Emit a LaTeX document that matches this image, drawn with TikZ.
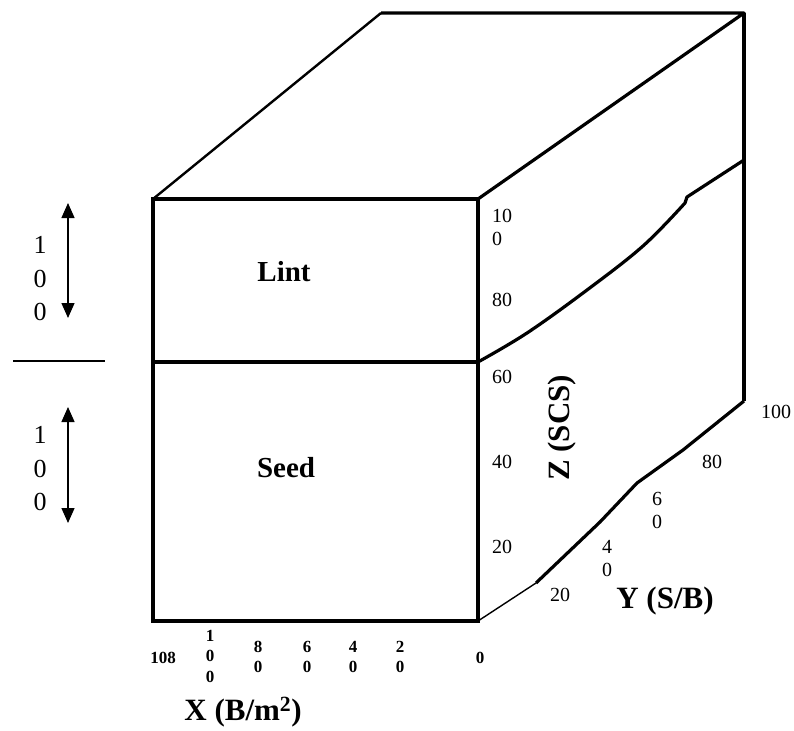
\documentclass[tikz,border=0pt]{standalone}
\usepackage{fontspec}
\setmainfont{Liberation Serif}
\usetikzlibrary{arrows.meta}
\tikzset{
  thick edge/.style={line width=3.2pt, line join=miter},
  mid edge/.style={line width=2.4pt},
  thin edge/.style={line width=1.4pt},
  lbl/.style={inner sep=0pt, font=\fontsize{20}{23}\selectfont, align=left},
  blbl/.style={inner sep=0pt, font=\bfseries\fontsize{17}{20.5}\selectfont, align=center},
  axlbl/.style={inner sep=0pt, font=\bfseries\fontsize{31}{34}\selectfont},
  boxlbl/.style={inner sep=0pt, font=\bfseries\fontsize{29}{32}\selectfont},
  leftnum/.style={inner sep=0pt, font=\fontsize{26}{33.5}\selectfont, align=center},
  dimarrow/.style={line width=1.3pt, {Triangle[length=15pt,width=13pt]}-{Triangle[length=15pt,width=13pt]}}
}
\begin{document}
\begin{tikzpicture}[x=1pt,y=-1pt]
\useasboundingbox (0,0) rectangle (794,730);
% corners
\coordinate (FTL) at (153,199);
\coordinate (FTR) at (478,199);
\coordinate (FML) at (153,362);
\coordinate (FMR) at (478,362);
\coordinate (FBL) at (153,621);
\coordinate (FBR) at (478,621);
\coordinate (BTL) at (381,13);
\coordinate (BTR) at (744,13);
\coordinate (BMR) at (744,160);
\coordinate (BBR) at (744,401);
\coordinate (K) at (536,583);
% front face
\draw[thick edge] (FTL) rectangle (FBR);
\draw[thick edge] (FML) -- (FMR);
% top face
\draw[mid edge, line join=round] (FTL) -- (BTL);
\draw[thick edge, line join=round] (BTL) -- (BTR) -- (FTR);
% right face
\draw[thick edge] (BTR) -- (BBR);
\draw[thin edge] (FBR) -- (K);
\draw[thick edge, line join=round] (K) -- (600,522) -- (637,483) -- (683,450) -- (BBR);
\draw[thick edge, line join=round] plot[smooth, tension=0.6] coordinates {(478,362) (527,333) (587,290) (643,246) (685,203)} -- (687,197) -- (BMR);
% box labels
\node[boxlbl] (lint) at (284,272) {Lint};
\node[boxlbl] (seed) at (286,468) {Seed};
% Z labels
\node[lbl, anchor=west] (z100) at (492,227) {10\\0};
\node[lbl, anchor=west] (z80) at (492,300) {80};
\node[lbl, anchor=west] (z60) at (492,377) {60};
\node[lbl, anchor=west] (z40) at (492,462) {40};
\node[lbl, anchor=west] (z20) at (492,547) {20};
\node[axlbl, rotate=90] (zlab) at (562,428) {Z (SCS)};
% Y labels
\node[lbl] (y100) at (776,412) {100};
\node[lbl] (y80) at (712,462) {80};
\node[lbl, align=center] (y60) at (657,510) {6\\0};
\node[lbl, align=center] (y40) at (607,559) {4\\0};
\node[lbl] (y20) at (560,595) {20};
\node[axlbl] (ylab) at (665,601) {Y (S/B)};
% X labels
\node[blbl] (x108) at (163,658) {108};
\node[blbl] (x100) at (210,656) {1\\0\\0};
\node[blbl] (x80) at (258,657) {8\\0};
\node[blbl] (x60) at (307,657) {6\\0};
\node[blbl] (x40) at (353,657) {4\\0};
\node[blbl] (x20) at (400,657) {2\\0};
\node[blbl] (x0) at (480,658) {0};
\node[axlbl] (xlab) at (243,712) {X (B/m\textsuperscript{2})};
% left dimension marks
\node[leftnum] (n1) at (40,279) {1\\0\\0};
\node[leftnum] (n2) at (40,469) {1\\0\\0};
\coordinate (a1t) at (68,203);
\coordinate (a1b) at (68,318);
\coordinate (a2t) at (68,407);
\coordinate (a2b) at (68,523);
\draw[dimarrow] (a1t) -- (a1b);
\draw[dimarrow] (a2t) -- (a2b);
\coordinate (s1) at (13,361);
\coordinate (s2) at (105,361);
\draw[line width=1.2pt] (s1) -- (s2);
\end{tikzpicture}
\end{document}
